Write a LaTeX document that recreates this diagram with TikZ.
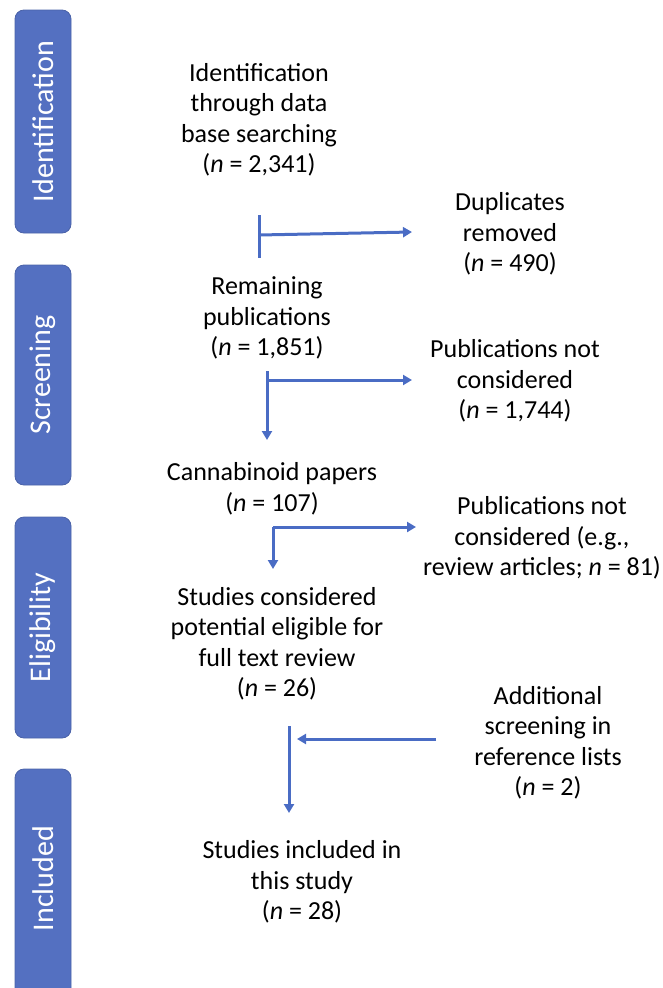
\documentclass[tikz,border=0pt]{standalone}
\usepackage{fontspec}
\setmainfont{Carlito}
\usetikzlibrary{arrows.meta}
\definecolor{stagefill}{HTML}{5470C1}
\definecolor{stageline}{HTML}{4A62A8}
\definecolor{arrowblue}{HTML}{4A6CC4}
\tikzset{
  stagebox/.style={draw=stageline, line width=0.8pt, fill=stagefill, rounded corners=9pt},
  stagetext/.style={text=white, rotate=90, font=\fontsize{30}{36}\selectfont, inner sep=0pt},
  flowtext/.style={align=center, font=\fontsize{26}{30.5}\selectfont, inner sep=0pt, text=black},
  flowline/.style={draw=arrowblue, line width=3pt},
  flowarrow/.style={flowline, -{Triangle[length=9pt, width=10pt]}},
}
\begin{document}
\begin{tikzpicture}[x=1pt, y=-1pt]
\useasboundingbox (0,0) rectangle (662,988);

% stage boxes
\draw[stagebox] (15,10) rectangle (71,233);
\node[stagetext] (sId) at (43,121.5) {Identification};
\draw[stagebox] (15,265) rectangle (71,485);
\node[stagetext] (sSc) at (43,375) {Screening};
\draw[stagebox] (15,517) rectangle (71,738);
\node[stagetext] (sEl) at (43,627.5) {Eligibility};
\draw[stagebox] (15,769) rectangle (71,1000);
\node[stagetext] (sIn) at (43,878.5) {Included};

% flow texts
\node[flowtext] (ident) at (259,120) {Identification\\through data\\base searching\\(\textit{n} = 2,341)};
\node[flowtext] (dup) at (510,234) {Duplicates\\removed\\(\textit{n} = 490)};
\node[flowtext] (remain) at (267,318) {Remaining\\publications\\(\textit{n} = 1,851)};
\node[flowtext] (notcons) at (515,381) {Publications not\\considered\\(\textit{n} = 1,744)};
\node[flowtext] (canna) at (272,489) {Cannabinoid papers\\(\textit{n} = 107)};
\node[flowtext] (notcons2) at (542,538) {Publications not\\considered (e.g.,\\review articles; \textit{n} = 81)};
\node[flowtext] (elig) at (277,644) {Studies considered\\potential eligible for\\full text review\\(\textit{n} = 26)};
\node[flowtext] (addl) at (548,743) {Additional\\screening in\\reference lists\\(\textit{n} = 2)};
\node[flowtext] (incl) at (302,882) {Studies included in\\this study\\(\textit{n} = 28)};

% connector anchor points
\coordinate (a1top) at (259,215);
\coordinate (a1bot) at (259,258);
\coordinate (a1mid) at (259,235);
\coordinate (a1end) at (412,232);

\coordinate (a2top) at (267,371);
\coordinate (a2bot) at (267,440);
\coordinate (a2mid) at (267,380);
\coordinate (a2end) at (412,380);

\coordinate (a3top) at (273,527);
\coordinate (a3bot) at (273,569);
\coordinate (a3end) at (416,527);

\coordinate (a4top) at (289,726);
\coordinate (a4bot) at (289,813);
\coordinate (a4start) at (436,739);
\coordinate (a4end) at (297,739);

% connectors
\draw[flowline] (a1top) -- (a1bot);
\draw[flowarrow] (a1mid) -- (a1end);

\draw[flowarrow] (a2top) -- (a2bot);
\draw[flowarrow] (a2mid) -- (a2end);

\draw[flowarrow] (a3top) -- (a3bot);
\draw[flowarrow] (a3top) -- (a3end);

\draw[flowarrow] (a4top) -- (a4bot);
\draw[flowarrow] (a4start) -- (a4end);
\end{tikzpicture}
\end{document}
